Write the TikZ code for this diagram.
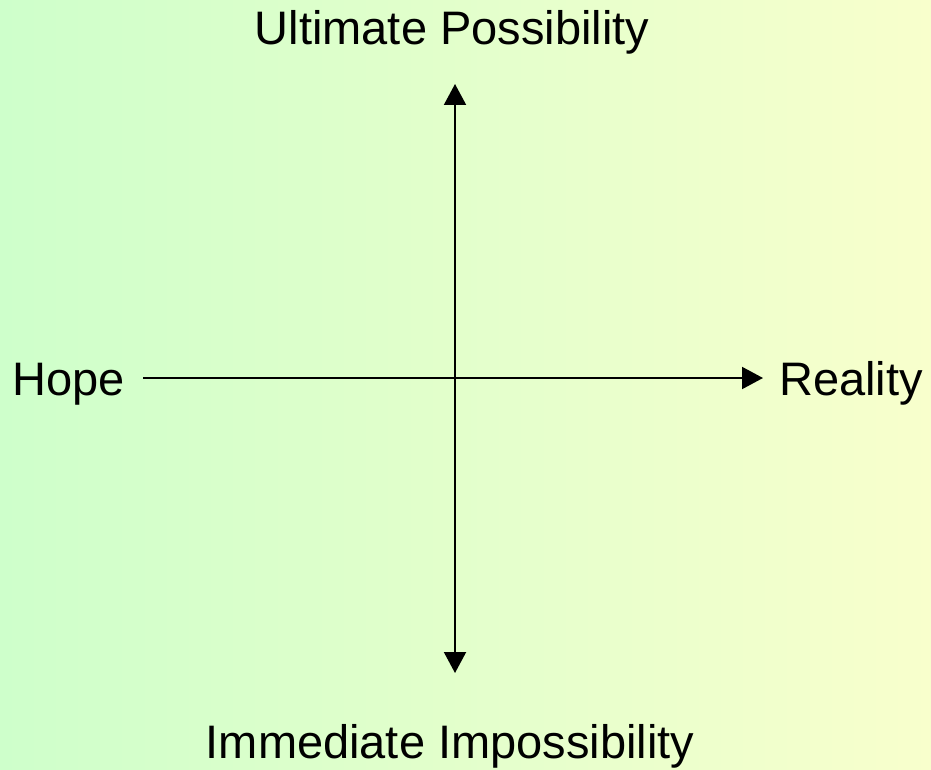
\documentclass[tikz,border=0pt]{standalone}
\usepackage{fontspec}
\setmainfont{Liberation Sans}
\usetikzlibrary{arrows.meta}
\definecolor{hrGreen}{HTML}{CEFFCB}
\definecolor{hrYellow}{HTML}{F8FFCC}
\definecolor{hrInk}{HTML}{000000}
\tikzset{
  hr axis/.style={draw=hrInk, line width=2pt, -{Triangle[length=21pt,width=22pt]}},
  hr twoway/.style={draw=hrInk, line width=2pt, {Triangle[length=21pt,width=22pt]}-{Triangle[length=21pt,width=22pt]}},
  hr label/.style={font=\fontsize{47}{56}\selectfont, text=hrInk, inner sep=0pt},
}

\begin{document}
\begin{tikzpicture}[x=1pt,y=-1pt]
  % background, light green to pale yellow
  \shade[left color=hrGreen, right color=hrYellow] (0,0) rectangle (931,770);
  \useasboundingbox (0,0) rectangle (931,770);
  % the four labels
  \node[hr label, anchor=base] (ultimate) at (452,45) {Ultimate Possibility};
  \node[hr label, anchor=base] (immediate) at (450,758) {Immediate Impossibility};
  \node[hr label, anchor=base west] (hope) at (12,395) {Hope};
  \node[hr label, anchor=base west] (reality) at (779,395) {Reality};
  % ends of the axes
  \coordinate (top) at (455,84);
  \coordinate (bottom) at (455,673);
  \coordinate (left) at (143,378);
  \coordinate (right) at (763,378);
  % axes
  \draw[hr twoway] (top) -- (bottom);
  \draw[hr axis] (left) -- (right);
\end{tikzpicture}
\end{document}
